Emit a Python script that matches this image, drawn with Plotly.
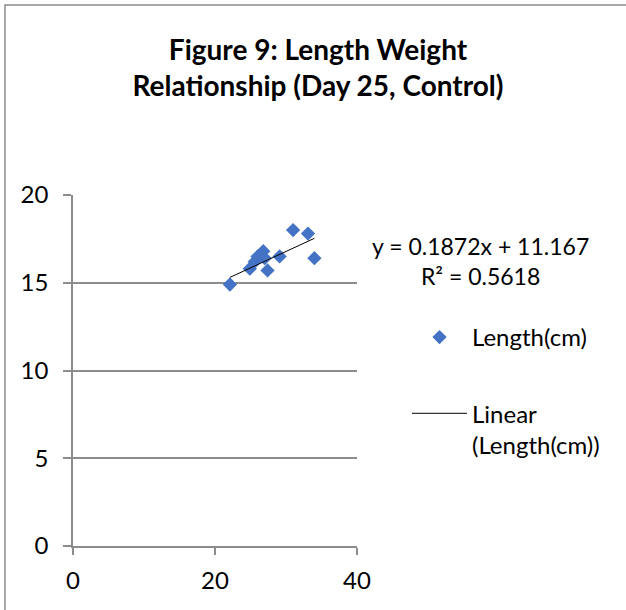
import plotly.graph_objects as go

# Data
weight_x = [22.1, 24.9, 25.6, 26.0, 26.8, 27.0, 27.4, 29.1, 31.0, 33.1, 34.0]
length_y = [14.9, 15.8, 16.2, 16.5, 16.8, 16.4, 15.7, 16.5, 18.0, 17.8, 16.4]
trend_slope = [0.1872]
trend_intercept = [11.167]
r_squared = [0.5618]
x_ticks = [0, 20, 40]
y_ticks = [0, 5, 10, 15, 20]

FONT = "Lato"
BLUE = "#4472C4"
GRID = "#8c8c8c"

fig = go.Figure()
fig.add_trace(go.Scatter(
    x=weight_x, y=length_y, mode="markers", name="Length(cm)",
    marker=dict(symbol="diamond", size=11, color=BLUE, line=dict(width=0)),
    legendgroup="a",
))
tx = [min(weight_x), max(weight_x)]
ty = [trend_slope[0] * v + trend_intercept[0] for v in tx]
fig.add_trace(go.Scatter(
    x=tx, y=ty, mode="lines", name="Linear<br>(Length(cm))",
    line=dict(color="black", width=1), legendgroup="b",
))

# plot area: x 73.3..357.3 px, y 195..546 px
L, R, T, B = 73, 626 - 357, 195, 610 - 546
pw, ph = 626 - L - R, 610 - T - B

def px_x(p):
    return (p - L) / pw

def px_y(p):
    return (610 - B - p) / ph

fig.add_shape(type="rect", xref="paper", yref="paper",
              x0=px_x(5), x1=px_x(640), y0=px_y(625), y1=px_y(5),
              line=dict(color="#8c8c8c", width=1.5), fillcolor="rgba(0,0,0,0)", layer="below")

fig.add_annotation(
    xref="paper", yref="paper", x=px_x(480), y=px_y(261),
    text=f"y = {trend_slope[0]}x + {trend_intercept[0]}<br>R² = {r_squared[0]}",
    showarrow=False, xanchor="center", yanchor="middle", align="center",
    font=dict(family=FONT, size=23, color="black"),
)

fig.update_layout(
    width=626, height=610,
    margin=dict(l=L, r=R, t=T, b=B, autoexpand=False),
    paper_bgcolor="white", plot_bgcolor="white",
    title=dict(text="<b>Figure 9: Length Weight<br>Relationship (Day 25, Control)</b>",
               x=318 / 626, xanchor="center", y=1 - 60 / 610, yanchor="middle",
               font=dict(family=FONT, size=28, color="black")),
    legend=dict(x=px_x(407), y=px_y(315), xanchor="left", yanchor="top",
                font=dict(family=FONT, size=24, color="black"),
                tracegroupgap=42, valign="top", itemwidth=55,
                bgcolor="rgba(0,0,0,0)"),
    showlegend=True,
)
fig.update_xaxes(range=[0, 40], tickvals=x_ticks, showgrid=False, zeroline=False,
                 showline=True, linecolor=GRID, linewidth=1.5,
                 ticks="outside", ticklen=7, tickcolor=GRID, tickwidth=1.5,
                 ticklabelstandoff=5,
                 tickfont=dict(family=FONT, size=24, color="black"))
fig.update_yaxes(range=[0, 20], tickvals=y_ticks, showgrid=True, gridcolor=GRID, gridwidth=1.5,
                 zeroline=False, showline=True, linecolor=GRID, linewidth=1.5,
                 ticks="outside", ticklen=8, tickcolor=GRID, tickwidth=1.5,
                 ticklabelstandoff=10,
                 tickfont=dict(family=FONT, size=24, color="black"))

fig.write_html("out.html")
